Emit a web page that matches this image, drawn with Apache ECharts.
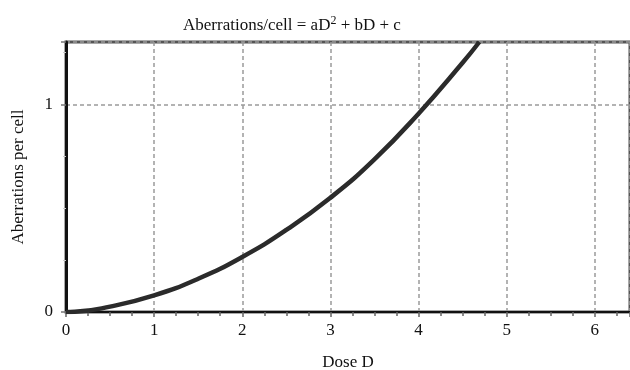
<!DOCTYPE html>
<html>
<head>
<meta charset="utf-8">
<script src="https://cdn.jsdelivr.net/npm/echarts@6/dist/echarts.min.js"></script>
<style>
  html, body { margin: 0; padding: 0; background: #fff; }
  #chart { width: 630px; height: 370px; }
</style>
</head>
<body>
<div id="chart"></div>
<script>
// values
const doses = [0, 0.1, 0.5, 1, 1.5, 2, 2.5, 3, 3.5, 4, 4.5, 4.69]
const aberrations = [0, 0.001, 0.026, 0.08, 0.16, 0.265, 0.395, 0.55, 0.735, 0.955, 1.2, 1.3]
const xTicks = [0, 1, 2, 3, 4, 5, 6]
const yTicks = [0, 1]

const serif = '"Liberation Serif", "DejaVu Serif", serif'

const points = []
for (let i = 0; i < doses.length; i++) {
  points.push([doses[i], aberrations[i]])
}

const dashed = {
  show: true,
  lineStyle: { color: '#9a9a9a', width: 1.5, type: [4, 3] }
}

const option = {
  animation: false,
  title: {
    text: 'Aberrations/cell = aD{sup|2} + bD + c',
    left: 178,
    top: 10,
    textStyle: {
      fontFamily: serif,
      fontSize: 17,
      fontWeight: 'normal',
      color: '#111',
      rich: {
        sup: { fontFamily: serif, fontSize: 12, color: '#111', verticalAlign: 'bottom', padding: [0, 0, 9, 0] }
      }
    }
  },
  grid: {
    left: 66,
    right: 0,
    top: 42,
    bottom: 58,
    outerBoundsMode: 'none',
    containLabel: false,
    show: true,
    borderColor: '#555',
    borderWidth: 3
  },
  xAxis: {
    type: 'value',
    min: 0,
    max: 6.4,
    interval: 1,
    name: 'Dose D',
    nameLocation: 'middle',
    nameGap: 42,
    nameTextStyle: { fontFamily: serif, fontSize: 17, color: '#111' },
    axisLine: { show: true, onZero: false, lineStyle: { color: '#111', width: 2 } },
    axisTick: { show: true, length: 5, lineStyle: { color: '#666', width: 1.5 } },
    minorTick: { show: true, splitNumber: 4, length: 4, lineStyle: { color: '#666', width: 1.5 } },
    axisLabel: {
      fontFamily: serif, fontSize: 17, color: '#111', margin: 10, showMaxLabel: false,
      formatter: (v) => (xTicks.indexOf(v) >= 0 ? String(v) : '')
    },
    splitLine: dashed
  },
  yAxis: {
    type: 'value',
    min: 0,
    max: 1.3,
    interval: 1,
    name: 'Aberrations per cell',
    nameLocation: 'middle',
    nameGap: 39,
    nameTextStyle: { fontFamily: serif, fontSize: 17, color: '#111' },
    axisLine: { show: true, lineStyle: { color: '#111', width: 3 } },
    axisTick: { show: true, length: 5, lineStyle: { color: '#777', width: 1.5 } },
    minorTick: { show: true, splitNumber: 4, length: 3, lineStyle: { color: '#ccc', width: 1 } },
    axisLabel: {
      fontFamily: serif, fontSize: 17, color: '#111', margin: 13, showMaxLabel: false,
      formatter: (v) => (yTicks.indexOf(v) >= 0 ? String(v) : '')
    },
    splitLine: dashed
  },
  series: [
    {
      type: 'line',
      data: points,
      smooth: true,
      showSymbol: false,
      clip: true,
      lineStyle: { color: '#2b2b2b', width: 4.5 }
    }
  ]
}

const chart = echarts.init(document.getElementById('chart'))
chart.setOption(option)
</script>
</body>
</html>
